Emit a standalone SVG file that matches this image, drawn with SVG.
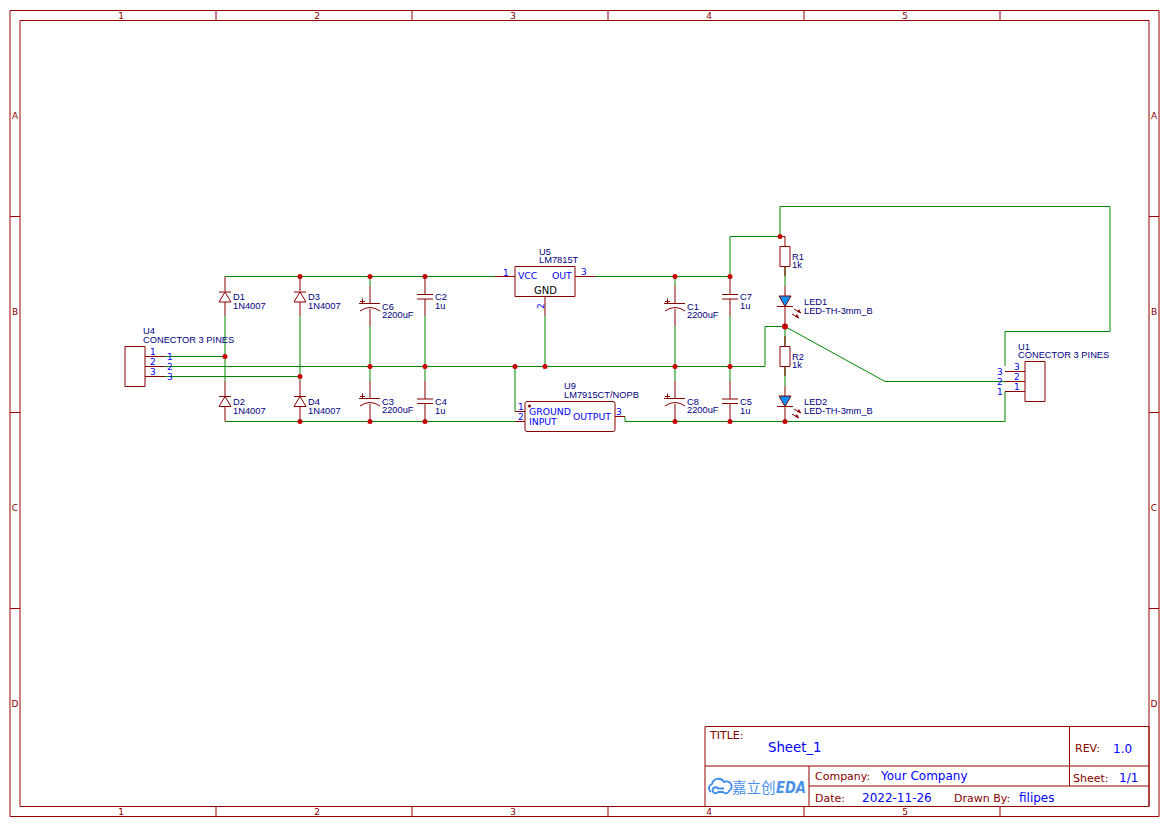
<svg xmlns="http://www.w3.org/2000/svg" width="1169" height="827" viewBox="0 0 1169 827">
<style>
text{font-family:"DejaVu Sans",sans-serif}
.f{fill:none;stroke:#990000;stroke-width:1}
.p{fill:none;stroke:#880000;stroke-width:1}
.w{fill:none;stroke:#008800;stroke-width:1}
.j{fill:#cc0000}
text.n{font-family:"Liberation Sans",Arial,sans-serif;font-size:9.3px;fill:#000080}
.pn{font-size:9px;fill:#0000ff}
.in{font-size:9.3px;fill:#0000ff}
.t{font-size:9px;fill:#880000}
.k{font-size:11px;fill:#880000}
.v{font-size:12px;fill:#0000ff}
.l{fill:#0090ff;stroke:#880000;stroke-width:1}
</style>
<defs>
<g id="diode" class="p"><path d="M-6 0H6M0 0L-6 10H6Z"/></g>
<g id="cap" class="p"><path d="M-11 0H10"/><path d="M-10 7.500Q0 0.500 10 7.500"/><path d="M-10 -2H-5M-7.500 -5V-0.500"/></g>
<g id="cn" class="p"><path d="M-8 0H8M-8 4.500H8"/></g>
<g id="led"><path class="l" d="M-6 0H6L0 10.500Z"/><path class="p" d="M-8 10.500H8"/><path class="p" d="M9 13L16 17M7 18L14 22"/><path d="M16 17L12 16L14 13ZM14 22L10 21L12 18Z" fill="#880000"/></g>
</defs>
<g id="frame">
<path class="f" d="M10 10.500H1159V816.500H10ZM20 20.500H1149V806.500H20Z"/>
<path class="f" d="M216 10.500V20.500M412 10.500V20.500M608 10.500V20.500M804 10.500V20.500M1000 10.500V20.500M216 806.500V816.500M412 806.500V816.500M608 806.500V816.500M804 806.500V816.500M1000 806.500V816.500M10 216.500H20M10 412.500H20M10 608.500H20M1149 216.500H1159M1149 412.500H1159M1149 608.500H1159"/>
<g class="t" text-anchor="middle">
<text x="121" y="18.500">1</text><text x="317" y="18.500">2</text><text x="513" y="18.500">3</text><text x="709" y="18.500">4</text><text x="905" y="18.500">5</text>
<text x="121" y="815">1</text><text x="317" y="815">2</text><text x="513" y="815">3</text><text x="709" y="815">4</text><text x="905" y="815">5</text>
<text x="15" y="118.500">A</text><text x="15" y="314.500">B</text><text x="15" y="510.500">C</text><text x="15" y="706.500">D</text>
<text x="1154" y="118.500">A</text><text x="1154" y="314.500">B</text><text x="1154" y="510.500">C</text><text x="1154" y="706.500">D</text>
</g>
</g>
<g id="titleblock">
<path class="f" d="M705 726.500H1149V806.500H705ZM705 766H1149M809 786H1149M809 766V806.500M1069.500 726.500V786"/>
<text class="k" x="710" y="739">TITLE:</text>
<text x="768" y="752" font-size="13.300" fill="#0000ff">Sheet_1</text>
<text class="k" x="1075" y="752">REV:</text>
<text class="v" x="1113" y="753">1.0</text>
<text class="k" x="815" y="780">Company:</text>
<text class="v" x="881" y="780">Your Company</text>
<text class="k" x="1073" y="782">Sheet:</text>
<text class="v" x="1119" y="782">1/1</text>
<text class="k" x="815" y="802">Date:</text>
<text class="v" x="862" y="802">2022-11-26</text>
<text class="k" x="954" y="802">Drawn By:</text>
<text class="v" x="1019" y="802">filipes</text>
<path d="M711 792a4.500 4.500 0 0 1 1-8a6.500 6.500 0 0 1 12-2a5 5 0 0 1 5 9a3.500 3.500 0 0 1-6 1h-5a3 3 0 1 1 0-3.500h6" fill="none" stroke="#3d8bef" stroke-width="1.800"/>
<text x="732" y="793" font-size="14.500" fill="#4a8fe8" style="font-family:'Noto Sans CJK SC','DejaVu Sans',sans-serif">嘉立创</text>
<text x="776" y="793" font-size="16" font-style="italic" font-weight="bold" fill="#4a8fe8" textLength="30" lengthAdjust="spacingAndGlyphs">EDA</text>
</g>
<g id="connectors">
<path class="w" d="M225 276.500H495M595 276.500H730M165 356.500H225M165 366.500H765V326.500H785M165 376.500H300M225 421.500H515M515 366.500V411.500M625 421.500H785M545 316V366.500"/>
<path class="w" d="M225 316V381M300 316V381M370 276.500V286M370 326V381M425 316V381M675 276.500V286M675 326V381M730 316V381M730 276.500V236.500H780V206.500H1110V331.500H1005V366M785 266V286M785 326V346M785 366V386M785 326.500L885 381.500H1005M625 421.500H1005V391.500"/>
<path class="w" d="M625 421.500V416.500"/>
<g class="j">
<circle cx="225" cy="356.500" r="2.500"/><circle cx="300" cy="376.500" r="2.500"/>
<circle cx="300" cy="276.500" r="2.500"/><circle cx="370" cy="276.500" r="2.500"/><circle cx="425" cy="276.500" r="2.500"/><circle cx="675" cy="276.500" r="2.500"/><circle cx="730" cy="276.500" r="2.500"/>
<circle cx="370" cy="366.500" r="2.500"/><circle cx="425" cy="366.500" r="2.500"/><circle cx="515" cy="366.500" r="2.500"/><circle cx="545" cy="366.500" r="2.500"/><circle cx="675" cy="366.500" r="2.500"/><circle cx="730" cy="366.500" r="2.500"/>
<circle cx="300" cy="421.500" r="2.500"/><circle cx="370" cy="421.500" r="2.500"/><circle cx="425" cy="421.500" r="2.500"/><circle cx="675" cy="421.500" r="2.500"/><circle cx="730" cy="421.500" r="2.500"/><circle cx="785" cy="421.500" r="2.500"/>
<circle cx="780" cy="236.500" r="2.500"/><circle cx="785" cy="326.500" r="3"/>
</g>
</g>
<g id="U4">
<path class="p" d="M125 346.500H145V386.500H125ZM145 356.500H165M145 366.500H165M145 376.500H165"/>
<text class="n" x="143" y="334">U4</text><text class="n" x="143" y="343">CONECTOR 3 PINES</text>
<text class="pn" x="150" y="355">1</text><text class="pn" x="150" y="365">2</text><text class="pn" x="150" y="375">3</text>
<text class="pn" x="167" y="360">1</text><text class="pn" x="167" y="370">2</text><text class="pn" x="167" y="380">3</text>
</g>
<g id="D1"><path class="p" d="M225 276.500V291M225 302V316"/><use href="#diode" x="225" y="292"/><text class="n" x="233" y="299.500">D1</text><text class="n" x="233" y="308.500">1N4007</text></g>
<g id="D2"><path class="p" d="M225 381V396M225 406V421.500"/><use href="#diode" x="225" y="396.500"/><text class="n" x="233" y="404.500">D2</text><text class="n" x="233" y="413.500">1N4007</text></g>
<g id="D3"><path class="p" d="M300 276.500V291M300 302V316"/><use href="#diode" x="300" y="292"/><text class="n" x="308" y="299.500">D3</text><text class="n" x="308" y="308.500">1N4007</text></g>
<g id="D4"><path class="p" d="M300 381V396M300 406V421.500"/><use href="#diode" x="300" y="396.500"/><text class="n" x="308" y="404.500">D4</text><text class="n" x="308" y="413.500">1N4007</text></g>
<g id="C6"><path class="p" d="M370 286V303M370 309V326"/><use href="#cap" x="370" y="303.500"/><text class="n" x="382" y="309.500">C6</text><text class="n" x="382" y="318">2200uF</text></g>
<g id="C3"><path class="p" d="M370 381V398M370 404V421.500"/><use href="#cap" x="370" y="398.500"/><text class="n" x="382" y="404.500">C3</text><text class="n" x="382" y="413">2200uF</text></g>
<g id="C2"><path class="p" d="M425 276.500V294M425 299V316"/><use href="#cn" x="425" y="294.500"/><text class="n" x="435" y="299.500">C2</text><text class="n" x="435" y="308.500">1u</text></g>
<g id="C4"><path class="p" d="M425 381V399M425 404V421.500"/><use href="#cn" x="425" y="399"/><text class="n" x="435" y="404.500">C4</text><text class="n" x="435" y="413.500">1u</text></g>
<g id="U5">
<path class="p" d="M515 266.500H575V296.500H515ZM495 276.500H515M575 276.500H595M545 296.500V316"/>
<text class="n" x="539" y="255">U5</text><text class="n" x="539" y="263">LM7815T</text>
<text class="pn" x="503" y="276">1</text><text class="pn" x="581" y="275">3</text>
<text class="pn" x="0" y="0" transform="translate(544 309) rotate(-90)">2</text>
<text class="in" x="518" y="279">VCC</text><text class="in" x="552" y="279">OUT</text>
<text x="534" y="294" font-size="10" fill="#000">GND</text>
</g>
<g id="U9">
<rect class="p" x="525" y="401.500" width="90" height="30" rx="2"/>
<path class="p" d="M515 411.500H525M515 421.500H525M615 416.500H625"/>
<circle cx="529.500" cy="406" r="1.500" fill="#880000"/>
<text class="n" x="564" y="389">U9</text><text class="n" x="564" y="398">LM7915CT/NOPB</text>
<text class="pn" x="518" y="410">1</text><text class="pn" x="518" y="420">2</text><text class="pn" x="616" y="415">3</text>
<text class="in" x="529" y="415">GROUND</text><text class="in" x="529" y="425">INPUT</text><text class="in" x="573" y="420">OUTPUT</text>
</g>
<g id="C1"><path class="p" d="M675 286V303M675 309V326"/><use href="#cap" x="675" y="303.500"/><text class="n" x="687" y="309.500">C1</text><text class="n" x="687" y="318">2200uF</text></g>
<g id="C8"><path class="p" d="M675 381V398M675 404V421.500"/><use href="#cap" x="675" y="398.500"/><text class="n" x="687" y="404.500">C8</text><text class="n" x="687" y="413">2200uF</text></g>
<g id="C7"><path class="p" d="M730 276.500V294M730 299V316"/><use href="#cn" x="730" y="294.500"/><text class="n" x="740" y="299.500">C7</text><text class="n" x="740" y="308.500">1u</text></g>
<g id="C5"><path class="p" d="M730 381V399M730 404V421.500"/><use href="#cn" x="730" y="399"/><text class="n" x="740" y="404.500">C5</text><text class="n" x="740" y="413.500">1u</text></g>
<g id="R1"><path class="p" d="M780 236.500H785V246.500M780 246.500H790V266.500H780ZM785 266.500V276"/><text class="n" x="792" y="259.500">R1</text><text class="n" x="792" y="268">1k</text></g>
<g id="LED1"><path class="p" d="M785 286V296M785 306V326"/><use href="#led" x="785" y="296"/><text class="n" x="804" y="305">LED1</text><text class="n" x="804" y="314">LED-TH-3mm_B</text></g>
<g id="R2"><path class="p" d="M785 336V346.500M780 346.500H790V366.500H780ZM785 366.500V376"/><text class="n" x="792" y="359.500">R2</text><text class="n" x="792" y="368">1k</text></g>
<g id="LED2"><path class="p" d="M785 386V396M785 406V421.500"/><use href="#led" x="785" y="396"/><text class="n" x="804" y="405">LED2</text><text class="n" x="804" y="414">LED-TH-3mm_B</text></g>
<g id="U1">
<path class="p" d="M1025 361.500H1045V401.500H1025ZM1005 371.500H1025M1005 381.500H1025M1005 391.500H1025"/>
<text class="n" x="1018" y="350">U1</text><text class="n" x="1018" y="358">CONECTOR 3 PINES</text>
<text class="pn" x="997" y="375">3</text><text class="pn" x="997" y="385">2</text><text class="pn" x="997" y="395">1</text>
<text class="pn" x="1014" y="370">3</text><text class="pn" x="1014" y="380">2</text><text class="pn" x="1014" y="390">1</text>
</g>
</svg>
